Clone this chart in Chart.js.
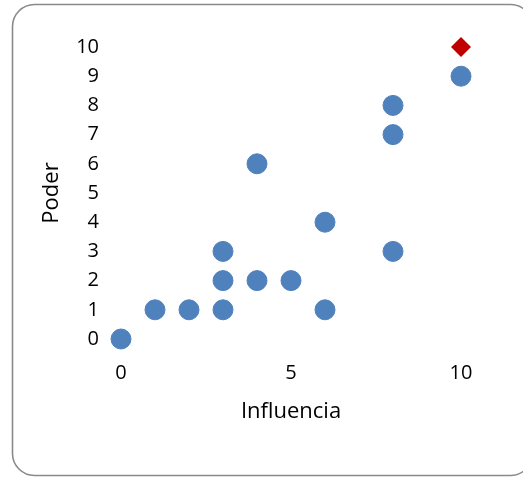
<!DOCTYPE html>
<html>
<head>
<meta charset="utf-8">
<title>Poder / Influencia</title>
<script src="https://cdn.jsdelivr.net/npm/chart.js@4/dist/chart.umd.min.js"></script>
<style>
  html, body { margin: 0; padding: 0; background: #ffffff; }
  #wrap { position: relative; width: 523px; height: 477px; }
</style>
</head>
<body>
<div id="wrap"><canvas id="c" width="523" height="477"></canvas></div>
<script>
// Stakeholder positions: influence (x) against power (y)
const influencia = [0, 1, 2, 3, 3, 3, 4, 4, 5, 6, 6, 8, 8, 8, 10];
const poder      = [0, 1, 1, 1, 2, 3, 2, 6, 2, 1, 4, 3, 7, 8, 9];

// Highlighted stakeholder
const destacadoX = [10];
const destacadoY = [10];

const xTicks = [0, 5, 10];
const yTicks = [0, 1, 2, 3, 4, 5, 6, 7, 8, 9, 10];

const toPoints = (xs, ys) => xs.map((x, i) => ({ x: x, y: ys[i] }));

const FONT = "'Open Sans', 'Noto Sans', sans-serif";

// Rounded frame around the whole chart
const framePlugin = {
  id: 'frame',
  beforeDraw(chart) {
    const ctx = chart.ctx;
    const x = 12.5, y = 4.5, w = 520, h = 471, r = 22;
    ctx.save();
    ctx.beginPath();
    ctx.moveTo(x + r, y);
    ctx.lineTo(x + w - r, y);
    ctx.arcTo(x + w, y, x + w, y + r, r);
    ctx.lineTo(x + w, y + h - r);
    ctx.arcTo(x + w, y + h, x + w - r, y + h, r);
    ctx.lineTo(x + r, y + h);
    ctx.arcTo(x, y + h, x, y + h - r, r);
    ctx.lineTo(x, y + r);
    ctx.arcTo(x, y, x + r, y, r);
    ctx.closePath();
    ctx.lineWidth = 1.6;
    ctx.strokeStyle = '#8a8a8a';
    ctx.stroke();
    ctx.restore();
  }
};

new Chart(document.getElementById('c'), {
  type: 'scatter',
  data: {
    datasets: [
      {
        label: 'Interesados',
        data: toPoints(influencia, poder),
        pointStyle: 'circle',
        pointRadius: 10,
        pointHoverRadius: 10,
        backgroundColor: '#4f81bd',
        borderColor: '#4f81bd',
        borderWidth: 1,
        clip: false
      },
      {
        label: 'Destacado',
        data: toPoints(destacadoX, destacadoY),
        pointStyle: 'rectRot',
        pointRadius: 10,
        pointHoverRadius: 10,
        backgroundColor: '#c00000',
        borderColor: '#c00000',
        borderWidth: 0,
        clip: false
      }
    ]
  },
  options: {
    responsive: false,
    animation: false,
    devicePixelRatio: 1,
    layout: { padding: { left: 35, right: 62, top: 47, bottom: 42 } },
    plugins: {
      legend: { display: false },
      tooltip: { enabled: false }
    },
    scales: {
      x: {
        type: 'linear',
        min: 0,
        max: 10,
        afterBuildTicks: (scale) => { scale.ticks = xTicks.map(v => ({ value: v })); },
        afterFit: (scale) => { scale.height = 96; },
        grid: { display: false, drawTicks: false },
        border: { display: false },
        ticks: {
          padding: 22,
          color: '#000000',
          font: { family: FONT, size: 20 },
          maxRotation: 0
        },
        title: {
          display: true,
          text: 'Influencia',
          color: '#000000',
          font: { family: FONT, size: 22 },
          padding: { top: 4, bottom: 10 }
        }
      },
      y: {
        type: 'linear',
        min: 0,
        max: 10,
        afterBuildTicks: (scale) => { scale.ticks = yTicks.map(v => ({ value: v })); },
        afterFit: (scale) => { scale.width = 86; },
        grid: { display: false, drawTicks: false },
        border: { display: false },
        ticks: {
          padding: 22,
          color: '#000000',
          font: { family: FONT, size: 20 }
        },
        title: {
          display: true,
          text: 'Poder',
          color: '#000000',
          font: { family: FONT, size: 22 },
          padding: { top: 4, bottom: 4 }
        }
      }
    }
  },
  plugins: [framePlugin]
});
</script>
</body>
</html>
